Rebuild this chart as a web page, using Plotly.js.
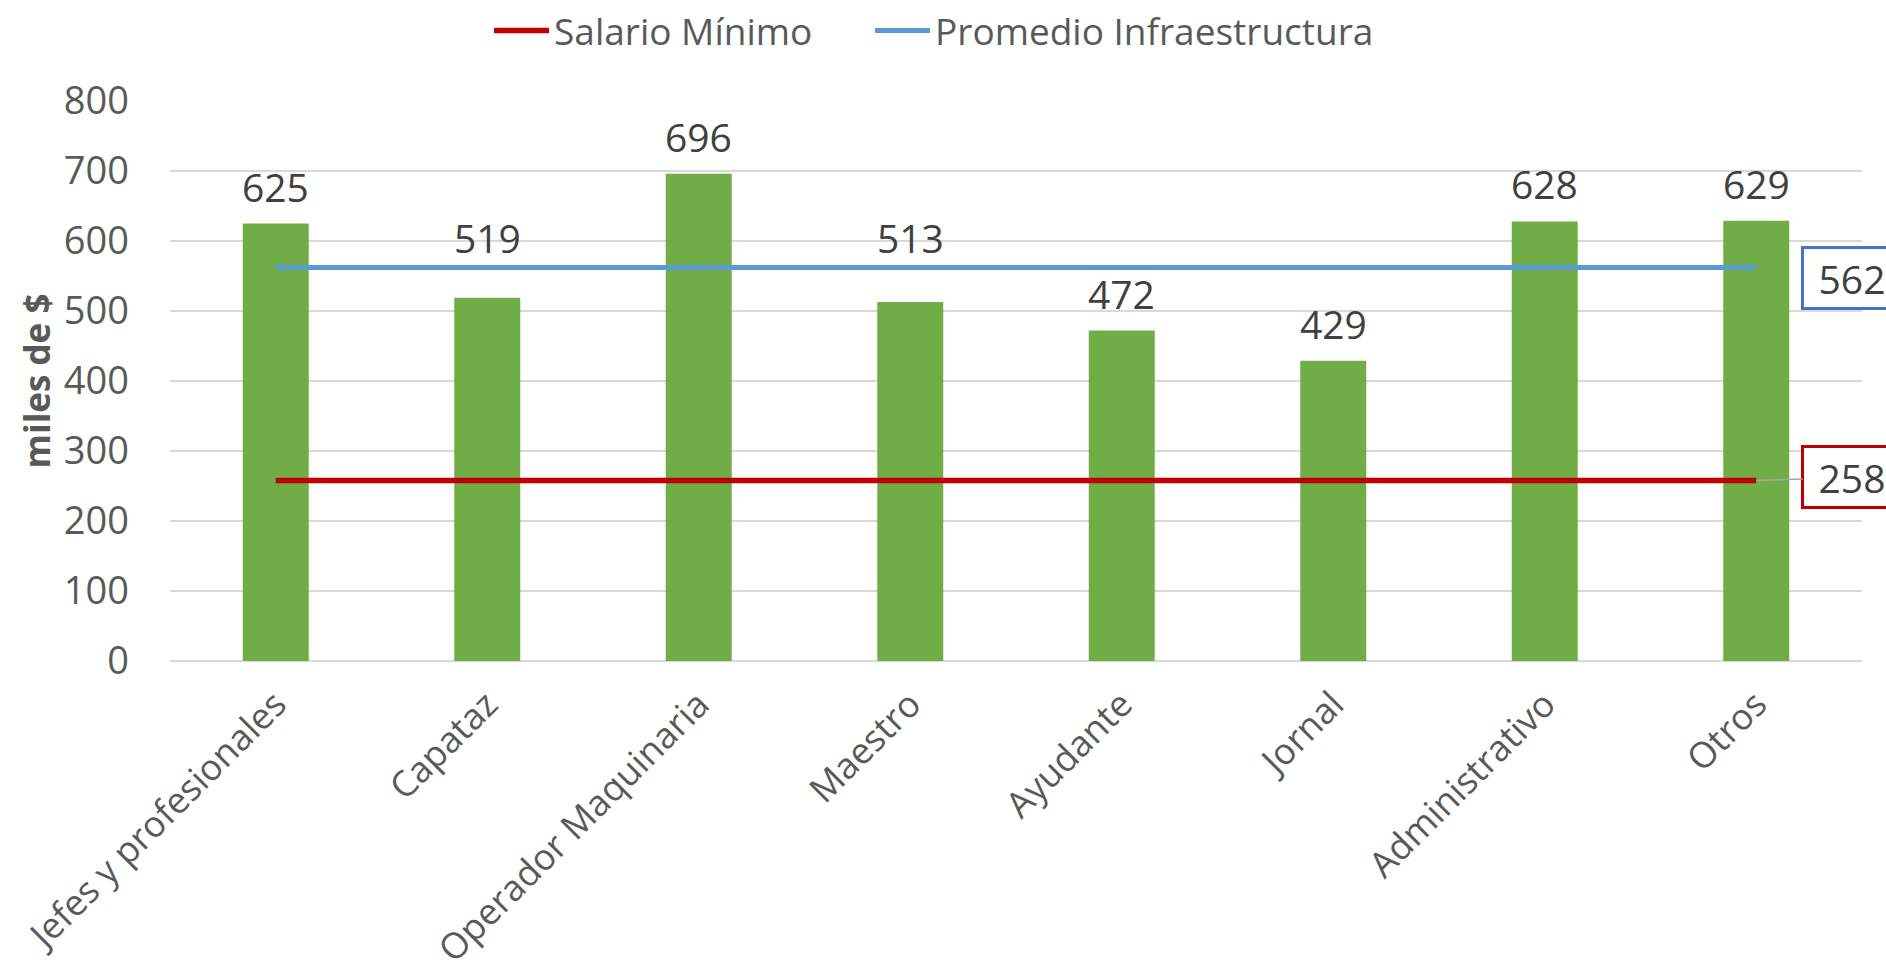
<!DOCTYPE html>
<html>
<head>
<meta charset="utf-8">
<script src="https://cdn.plot.ly/plotly-3.0.1.min.js"></script>
<style>html,body{margin:0;padding:0;background:#fff;}#chart{width:1886px;height:978px;}</style>
</head>
<body>
<div id="chart"></div>
<script>
const categories = ["Jefes y profesionales","Capataz","Operador Maquinaria","Maestro","Ayudante","Jornal","Administrativo","Otros"];
const salarios = [625, 519, 696, 513, 472, 429, 628, 629];
const salarioMinimo = [258, 258, 258, 258, 258, 258, 258, 258];
const promedioInfra = [562, 562, 562, 562, 562, 562, 562, 562];
const yTicks = [0, 100, 200, 300, 400, 500, 600, 700, 800];

const FONT = "Open Sans, Liberation Sans, sans-serif";
const last = categories.length - 1;

const traces = [
  {type:'bar', x:categories, y:salarios, marker:{color:'#70AD47'}, showlegend:false, hoverinfo:'x+y'},
  {type:'scatter', mode:'lines', name:'Salario Mínimo', x:categories, y:salarioMinimo, line:{color:'#C00000', width:5.5}, legend:'legend'},
  {type:'scatter', mode:'lines', name:'Promedio Infraestructura', x:categories, y:promedioInfra, line:{color:'#5B9BD5', width:5}, legend:'legend2'}
];

// data labels; a label that would sit on the average line is lifted above it
const annotations = salarios.map((v,i)=>{
  const avg = promedioInfra[i];
  const clash = v < avg && v > avg - 70;
  return {
    x:categories[i], y: clash ? avg : v, xref:'x', yref:'y', text:String(v), showarrow:false,
    yanchor:'bottom', yshift: clash ? 2 : 9, font:{family:FONT, size:39, color:'#404040'}
  };
});
annotations.push({
  x:categories[last], y:promedioInfra[last], xref:'x', yref:'y', text:String(promedioInfra[last]),
  showarrow:false, xshift:96, yshift:-10, xanchor:'center', yanchor:'middle',
  width:90, height:52, borderpad:3, borderwidth:3, bordercolor:'#4472C4', bgcolor:'#ffffff',
  font:{family:FONT, size:39, color:'#404040'}
});
annotations.push({
  x:categories[last], y:salarioMinimo[last], xref:'x', yref:'y', text:String(salarioMinimo[last]),
  showarrow:true, arrowhead:0, arrowwidth:1.5, arrowcolor:'#A6A6A6', ax:96, ay:-3,
  width:90, height:52, borderpad:3, borderwidth:3, bordercolor:'#C00000', bgcolor:'#ffffff',
  font:{family:FONT, size:39, color:'#404040'}
});

const legendBase = {orientation:'h', xref:'container', yref:'container', xanchor:'left', y:1, yanchor:'top',
  font:{family:FONT, size:37, color:'#595959'}, itemwidth:55, bgcolor:'rgba(0,0,0,0)'};

const layout = {
  width:1886, height:978,
  paper_bgcolor:'#ffffff', plot_bgcolor:'#ffffff',
  margin:{l:170, r:24, t:101, b:317},
  font:{family:FONT, size:37, color:'#595959'},
  bargap:0.688,
  showlegend:true,
  legend:Object.assign({}, legendBase, {x:0.2593}),
  legend2:Object.assign({}, legendBase, {x:0.4613}),
  xaxis:{type:'category', range:[-0.5, 7.5], tickangle:-45, showgrid:false, showline:false, zeroline:false, ticks:'',
         ticklabelstandoff:14,
         tickfont:{family:FONT, size:36, color:'#595959'}, automargin:false},
  yaxis:{range:[0,800], tickvals:yTicks, showgrid:true, gridcolor:'#D9D9D9', gridwidth:1.5,
         zeroline:true, zerolinecolor:'#D9D9D9', zerolinewidth:1.5, showline:false, ticks:'',
         ticklabelstandoff:40,
         tickfont:{family:FONT, size:38, color:'#595959'}, automargin:false,
         title:{text:'<b>miles de $</b>', standoff:2, font:{family:FONT, size:35, color:'#595959'}}},
  annotations:annotations
};

Plotly.newPlot('chart', traces, layout, {displayModeBar:false, staticPlot:true});
</script>
</body>
</html>
